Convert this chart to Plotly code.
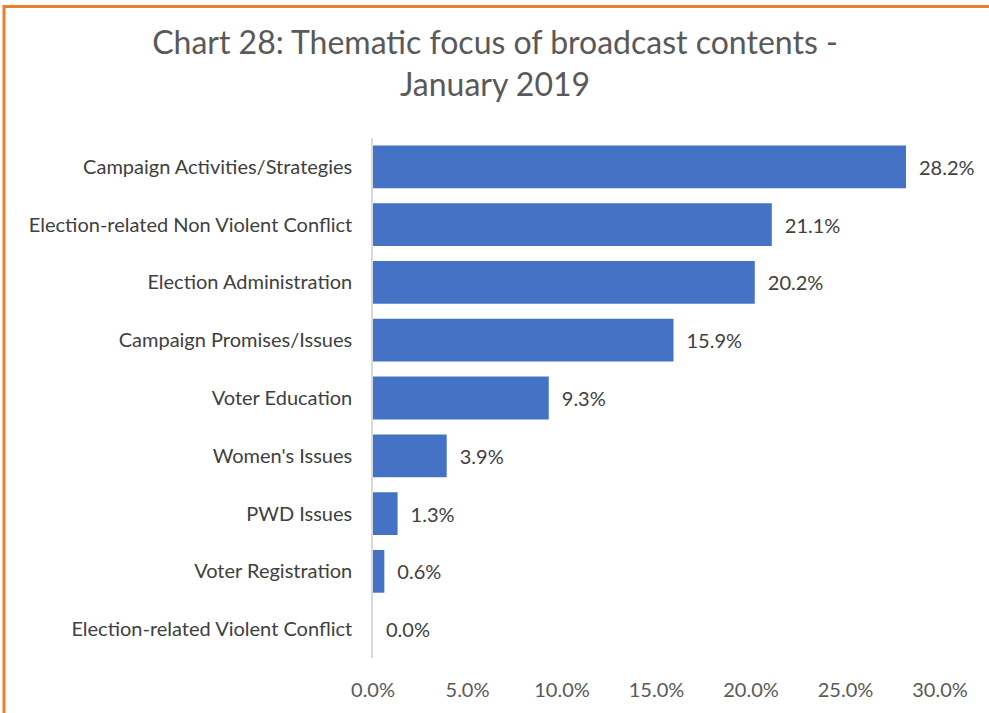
import plotly.graph_objects as go

categories = [
    "Campaign Activities/Strategies",
    "Election-related Non Violent Conflict",
    "Election Administration",
    "Campaign Promises/Issues",
    "Voter Education",
    "Women's Issues",
    "PWD Issues",
    "Voter Registration",
    "Election-related Violent Conflict",
]
values = [0.282, 0.211, 0.202, 0.159, 0.093, 0.039, 0.013, 0.006, 0.0]
tick_vals = [0, 0.05, 0.10, 0.15, 0.20, 0.25, 0.30]
tick_text = ["0.0%", "5.0%", "10.0%", "15.0%", "20.0%", "25.0%", "30.0%"]
title_text = "Chart 28: Thematic focus of broadcast contents -<br>January 2019"

W, H = 989, 713
L, R, T, B = 373, 49, 138, 53
FONT = "Lato, 'Open Sans', sans-serif"

fig = go.Figure(go.Bar(
    x=values, y=categories, orientation="h",
    marker=dict(color="#4472C4", line=dict(width=0)),
    text=["\u2002" + f"{v*100:.1f}%" for v in values],
    textposition="outside", cliponaxis=False,
    textfont=dict(size=20, color="#404040", family=FONT),
))

def px_x(p):
    return (p - L) / (W - L - R)

def px_y(p):
    return (H - B - p) / (H - T - B)

fig.update_layout(
    width=W, height=H,
    margin=dict(l=L, r=R, t=T, b=B),
    paper_bgcolor="white", plot_bgcolor="white",
    bargap=0.26,
    showlegend=False,
    title=dict(text=title_text, x=495 / W, xref="container", xanchor="center",
               y=1 - 54 / H, yref="container", yanchor="top",
               font=dict(size=32, color="#595959", family=FONT)),
    xaxis=dict(range=[0, 0.30], tickvals=tick_vals, ticktext=tick_text,
               showgrid=False, zeroline=False, showline=False,
               ticks="", ticklabelstandoff=18,
               tickfont=dict(size=20, color="#595959", family=FONT)),
    yaxis=dict(autorange="reversed", showgrid=False, zeroline=False,
               showline=True, linecolor="#D9D9D9", linewidth=1.5,
               ticks="", ticklabelstandoff=15,
               tickfont=dict(size=20, color="#404040", family=FONT)),
    shapes=[
        dict(type="rect", xref="paper", yref="paper", layer="above",
             x0=px_x(4), x1=px_x(W + 10), y0=px_y(H + 10), y1=px_y(6),
             fillcolor="rgba(0,0,0,0)",
             line=dict(color="#ED7D31", width=3)),
    ],
)

fig.write_html("out.html", config={"displayModeBar": False},
               post_script="document.body.style.margin='0';")
